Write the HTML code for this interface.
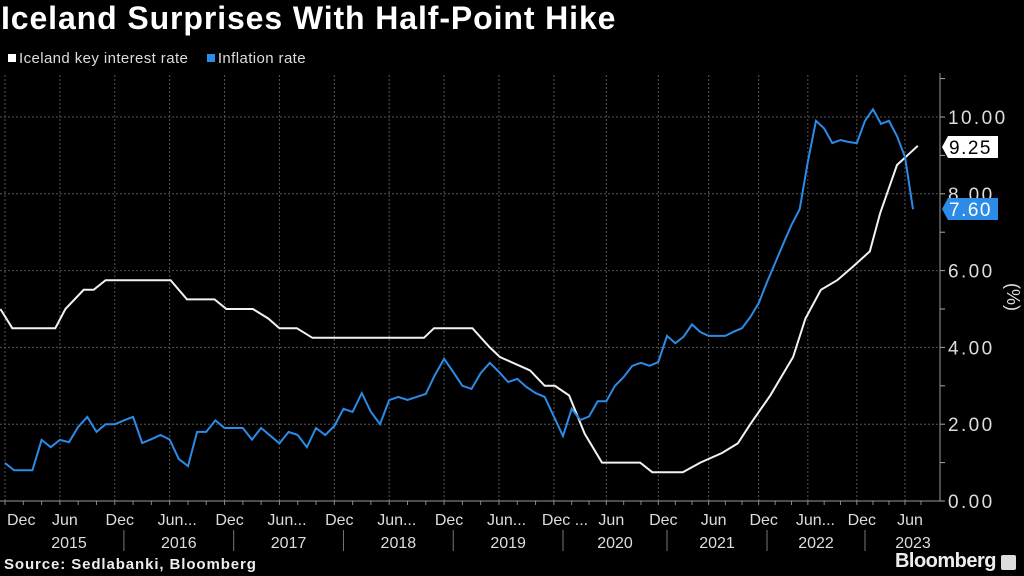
<!DOCTYPE html>
<html><head><meta charset="utf-8"><style>
html,body{margin:0;padding:0;background:#000;}
body{width:1024px;height:576px;overflow:hidden;position:relative;font-family:"Liberation Sans",sans-serif;color:#fff;}
#title{position:absolute;left:1px;top:0px;font-size:32px;font-weight:bold;letter-spacing:0.9px;white-space:nowrap;}
#legend{position:absolute;left:8px;top:50px;font-size:15px;color:#ddd;letter-spacing:0.4px;white-space:nowrap;}
.lg{display:inline-block;margin-right:14px;}
.sw{display:inline-block;width:8px;height:8px;margin-right:3px;vertical-align:1px;}
#source{position:absolute;left:4px;top:556px;font-size:15px;font-weight:bold;color:#eee;letter-spacing:0.9px;white-space:nowrap;}
#brand{position:absolute;right:28px;top:550px;font-size:20px;font-weight:bold;color:#eee;letter-spacing:-0.5px;}
#brand-icon{position:absolute;right:8px;top:555px;width:15px;height:15px;background:#ddd;border-radius:2px;}
svg{position:absolute;left:0;top:0;}
</style></head><body>
<div id="title">Iceland Surprises With Half-Point Hike</div>
<div id="legend">
<span class="lg"><span class="sw" style="background:#fff"></span>Iceland key interest rate</span>
<span class="lg"><span class="sw" style="background:#2b8be6"></span>Inflation rate</span>
</div>
<svg id="chart" width="1024" height="576"></svg>
<div id="source">Source: Sedlabanki, Bloomberg</div>
<div id="brand">Bloomberg</div>
<div id="brand-icon"></div>
<script>
// months since Dec 2014
const inflationValues = [0.99,0.8,0.8,0.8,1.59,1.4,1.59,1.53,1.93,2.19,1.8,2.0,
2.0,2.1,2.19,1.51,1.61,1.72,1.6,1.09,0.91,1.8,1.8,2.1,
1.9,1.9,1.9,1.6,1.9,1.7,1.5,1.8,1.72,1.4,1.9,1.72,1.95,
2.4,2.32,2.81,2.32,2.0,2.63,2.71,2.63,2.71,2.79,3.28,3.7,
3.36,3.0,2.92,3.33,3.6,3.36,3.1,3.18,2.97,2.81,2.71,2.2,
1.69,2.4,2.11,2.2,2.6,2.6,3.0,3.23,3.52,3.6,3.52,3.62,
4.3,4.11,4.28,4.6,4.4,4.3,4.3,4.3,4.41,4.5,4.79,5.15,
5.7,6.2,6.7,7.19,7.6,8.83,9.9,9.7,9.32,9.4,9.35,9.32,
9.9,10.2,9.82,9.9,9.5,8.96,7.6];
const rateMonths = [-0.5,0.8,5.5,6.6,8.6,9.7,11,18.1,19.9,22.9,24.2,27.1,28.8,30,31.9,33.6,45.8,46.9,51.1,53,54.1,57.4,59,60.1,61.7,63.5,65.5,69.9,71.3,74.9,77,79.6,81.5,83,85.4,88.2,89.7,91.6,93.6,95.5,97.6,98.9,101,103.6];
const rateValues = [5.0,4.5,4.5,5.0,5.5,5.5,5.75,5.75,5.25,5.25,5.0,5.0,4.75,4.5,4.5,4.25,4.25,4.5,4.5,4.0,3.75,3.4,3.0,3.0,2.75,1.75,1.0,1.0,0.75,0.75,1.0,1.25,1.5,2.0,2.75,3.75,4.75,5.5,5.75,6.1,6.5,7.5,8.75,9.25];
const yTicks = [0,2,4,6,8,10];
const yTickLabels = ["0.00","2.00","4.00","6.00","8.00","10.00"];
const xTickMonths = [0,6,12,18,24,30,36,42,48,54,60,66,72,78,84,90,96,102];
const xTickLabels = ["Dec","Jun","Dec","Jun...","Dec","Jun...","Dec","Jun...","Dec","Jun...","Dec ...","Jun","Dec","Jun","Dec","Jun...","Dec","Jun"];
const years = ["2015","2016","2017","2018","2019","2020","2021","2022","2023"];

const svg=document.getElementById('chart');
const NS='http://www.w3.org/2000/svg';
const xd=[0,61,73,85,97,103], xr=[5,563,667,767,865,913];
function x(m){let i=0;if(m>xd[xd.length-1])i=xd.length-2;else{while(i<xd.length-2&&m>xd[i+1])i++;}
 return xr[i]+(m-xd[i])*(xr[i+1]-xr[i])/(xd[i+1]-xd[i]);}
function y(v){return 501-v*38.4;}
function mk(t,a,txt){const e=document.createElementNS(NS,t);for(const k in a)e.setAttribute(k,a[k]);if(txt!==undefined)e.textContent=txt;svg.appendChild(e);return e;}
yTicks.forEach((v,i)=>{
 if(v>0){const g=mk('line',{x1:0,x2:940,y1:y(v),y2:y(v),stroke:'#555','stroke-dasharray':'2,2'});
 
 }
 const t=mk('text',{x:948,y:y(v)+7,'font-size':19,fill:'#ddd','letter-spacing':'2.4'},yTickLabels[i]);
 
 
});
for(let v=0;v<=11;v++){const tk=mk('line',{x1:940,x2:945,y1:y(v),y2:y(v),stroke:'#aaa'});
 
 }
xTickMonths.forEach((m,i)=>{
 const g=mk('line',{x1:x(m),x2:x(m),y1:75,y2:501,stroke:'#555','stroke-dasharray':'2,2'});
 
 
 const lab=xTickLabels[i];
 let attrs={x:x(m)+(lab.length>3?-12:5),y:525,'font-size':16,fill:'#ddd','text-anchor':lab.length>3?'start':'middle'};
 if(i===0){attrs.x=7;attrs['text-anchor']='start';}
 const t=mk('text',attrs,lab);
 
 
});
for(let m=0;m<=104;m+=2){const tk=mk('line',{x1:x(m),x2:x(m),y1:501,y2:505,stroke:'#888'});
 
 }
years.forEach((yr,i)=>{
 const m0=1+12*i;
 const t=mk('text',{x:(x(m0)+x(m0+12))/2,y:548,'font-size':16,fill:'#ddd','text-anchor':'middle'},yr);
 
 
 if(i>0){const s=mk('line',{x1:x(m0),x2:x(m0),y1:530,y2:551,stroke:'#777'});
 
 }
});
const ax=mk('line',{x1:0,x2:940,y1:501,y2:501,stroke:'#999'});


const ay=mk('line',{x1:940,x2:940,y1:73,y2:501,stroke:'#999'});


const yt=mk('text',{x:0,y:0,'font-size':18,fill:'#ddd','text-anchor':'middle',transform:'translate(1007,297) rotate(90)'},'(%)');


const wp=mk('polyline',{points:rateMonths.map((m,i)=>x(m).toFixed(1)+','+y(rateValues[i]).toFixed(1)).join(' '),fill:'none',stroke:'#f2f2f2','stroke-width':2});


const bp=mk('polyline',{points:inflationValues.map((v,i)=>x(i).toFixed(1)+','+y(v).toFixed(1)).join(' '),fill:'none',stroke:'#2b8be6','stroke-width':2});


function tag(v,bg,fg,name,yy){
 const p=mk('path',{d:`M942,${yy} l6,-11 h50 v22 h-50 z`,fill:bg});
 
 
 const t=mk('text',{x:949,y:yy+7,'font-size':19,fill:fg,'letter-spacing':'1.5'},v.toFixed(2));
 
 
}
tag(rateValues[rateValues.length-1],'#fff','#000','interest-rate-value-tag',147);
tag(inflationValues[inflationValues.length-1],'#2b8be6','#fff','inflation-value-tag',209);
</script>
</body></html>
